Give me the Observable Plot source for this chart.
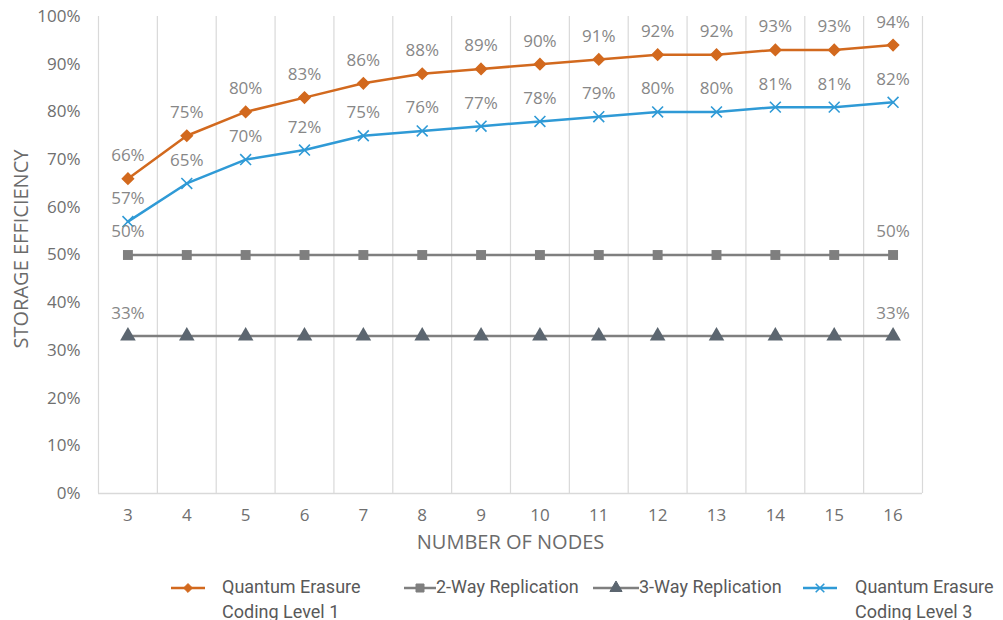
<!DOCTYPE html>
<html><head><meta charset="utf-8">
<script src="https://cdn.jsdelivr.net/npm/d3@7"></script>
<script src="https://cdn.jsdelivr.net/npm/@observablehq/plot@0.6"></script>
<style>
body{margin:0;background:#fff;font-family:"Open Sans",sans-serif;}
#wrap{position:relative;width:1003px;height:620px;}
.lg{position:absolute;font-family:Roboto,"Open Sans",sans-serif;font-size:18px;color:#595959;line-height:25px;white-space:nowrap;}
.sw{position:absolute;}
</style></head><body>
<div id="wrap"></div>
<script>
const nodes = [3,4,5,6,7,8,9,10,11,12,13,14,15,16];
const qec1 = [66,75,80,83,86,88,89,90,91,92,92,93,93,94];
const qec3 = [57,65,70,72,75,76,77,78,79,80,80,81,81,82];
const rep2 = [50,50,50,50,50,50,50,50,50,50,50,50,50,50];
const rep3 = [33,33,33,33,33,33,33,33,33,33,33,33,33,33];
const yTicks = [0,10,20,30,40,50,60,70,80,90,100];
const seriesNames = ["Quantum Erasure\nCoding Level 1","2-Way Replication","3-Way Replication","Quantum Erasure\nCoding Level 3"];

const orange = "#d2691e", blue = "#2f9ad6", gray = "#7f7f7f", dark = "#5c6670";
const rows = (vals) => nodes.map((n,i)=>({n, v: vals[i], i}));
const d1 = rows(qec1), d3r = rows(qec3), d2 = rows(rep2), d4 = rows(rep3);
const ends = d => d.filter(r => r.i === 0 || r.i === nodes.length-1);
const bounds = [nodes[0]-0.5, ...nodes.map(n=>n+0.5)];
const lbl = {fill:"#878787", fontSize:17, dy:-23, text: d=>d.v+"%"};

const chart = Plot.plot({
  width:1003, height:560,
  marginLeft:98, marginRight:81, marginTop:16, marginBottom:67,
  style:{fontFamily:"Open Sans, sans-serif", fontSize:"17px", color:"#6f6f6f", background:"#fff"},
  x:{domain:[nodes[0]-0.5, nodes[nodes.length-1]+0.5], ticks:nodes, tickFormat:d=>d, tickSize:0, tickPadding:15, label:null},
  y:{domain:[0,100], ticks:yTicks, tickFormat:d=>d+"%", tickSize:0, tickPadding:18, label:null},
  marks:[
    Plot.ruleX(bounds, {stroke:"#d9d9d9", strokeWidth:1.2}),
    Plot.ruleY([0], {stroke:"#d9d9d9", strokeWidth:1.5}),
    Plot.line(d2, {x:"n", y:"v", stroke:gray, strokeWidth:2.5}),
    Plot.dot(d2, {x:"n", y:"v", symbol:"square", r:5.6, fill:gray}),
    Plot.line(d4, {x:"n", y:"v", stroke:gray, strokeWidth:2.5}),
    Plot.dot(d4, {x:"n", y:"v", symbol:"triangle", r:5.8, fill:dark}),
    Plot.line(d3r, {x:"n", y:"v", stroke:blue, strokeWidth:2.5}),
    Plot.dot(d3r, {x:"n", y:"v", symbol:"times", r:5, stroke:blue, strokeWidth:1.6}),
    Plot.line(d1, {x:"n", y:"v", stroke:orange, strokeWidth:2.5}),
    Plot.dot(d1, {x:"n", y:"v", symbol:"diamond2", r:5, fill:orange, stroke:orange}),
    Plot.text(d1, {x:"n", y:"v", ...lbl}),
    Plot.text(d3r, {x:"n", y:"v", ...lbl}),
    Plot.text(ends(d2), {x:"n", y:"v", ...lbl}),
    Plot.text(ends(d4), {x:"n", y:"v", ...lbl}),
    Plot.text(["STORAGE EFFICIENCY"], {frameAnchor:"left", textAnchor:"middle", dx:-77, dy:-6, rotate:-90, fontSize:20, fill:"#6b6b6b"}),
    Plot.text(["NUMBER OF NODES"], {frameAnchor:"bottom", dy:55, fontSize:20, fill:"#6b6b6b"})
  ]
});
const wrap = document.getElementById("wrap");
chart.style.position="absolute"; chart.style.left="0"; chart.style.top="0";
wrap.appendChild(chart);

// legend
const sym = {square:d3.symbolSquare, triangle:d3.symbolTriangle, times:d3.symbolTimes, diamond2:d3.symbolDiamond2};
const legend = [
  {name:seriesNames[0], color:orange, mfill:orange, sym:"diamond2", x1:171, x2:205, tx:222},
  {name:seriesNames[1], color:gray, mfill:gray, sym:"square", x1:404, x2:436, tx:436},
  {name:seriesNames[2], color:gray, mfill:dark, sym:"triangle", x1:593, x2:639, tx:639},
  {name:seriesNames[3], color:blue, mfill:"none", sym:"times", x1:803, x2:837, tx:855}
];
const ly = 587;
legend.forEach(it=>{
  const w = it.x2-it.x1;
  const size = it.sym==="square" ? 64 : it.sym==="triangle" ? 64 : 50;
  const p = d3.symbol(sym[it.sym], size)();
  const s = document.createElement("div");
  s.className="sw"; s.style.left=it.x1+"px"; s.style.top=(ly-8)+"px";
  const stroke = it.mfill==="none" ? `stroke="${it.color}" stroke-width="1.6" fill="none"` : `fill="${it.mfill}" stroke="${it.mfill}"`;
  s.innerHTML = `<svg width="${w}" height="16"><line x1="0" x2="${w}" y1="8" y2="8" stroke="${it.color}" stroke-width="2.5"/><path d="${p}" transform="translate(${w/2},8)" ${stroke}/></svg>`;
  wrap.appendChild(s);
  const t = document.createElement("div");
  t.className="lg"; t.style.left=it.tx+"px"; t.style.top=(ly-13)+"px";
  t.innerHTML = it.name.replace("\n","<br>");
  wrap.appendChild(t);
});
</script>
</body></html>
